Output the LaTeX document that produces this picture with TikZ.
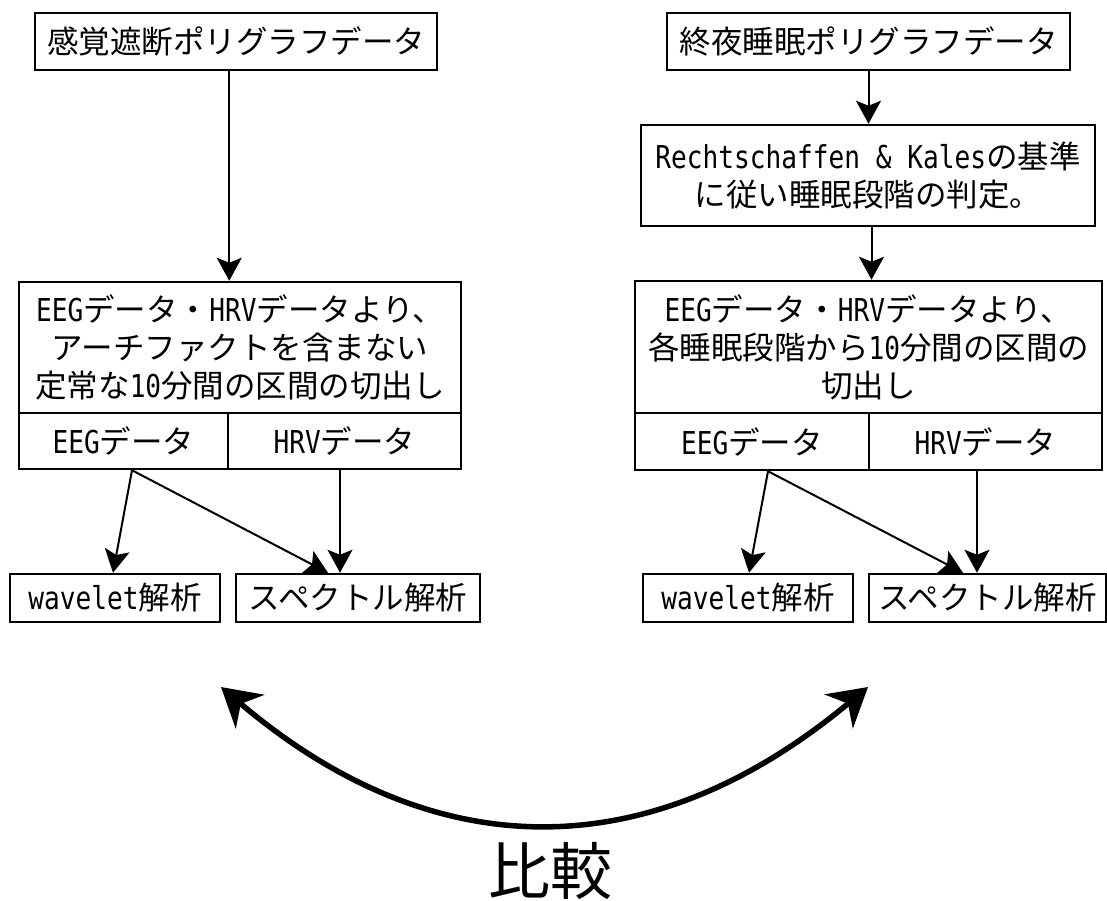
\documentclass[tikz,border=0pt]{standalone}
\usepackage{fontspec}
\setmainfont{Noto Sans CJK JP}
\newfontfamily\latf{DejaVu Sans Mono}[FakeStretch=0.83]
\newcommand\hw[1]{{\latf #1}}
\usetikzlibrary{arrows.meta}
\tikzset{
  bx/.style={draw, line width=2.5pt, inner sep=0pt, align=center, font=\fontsize{31.5}{38}\selectfont},
  arr/.style={line width=2pt, -{Stealth[length=23pt,width=25pt,inset=5pt]}},
  bigarr/.style={line width=5.5pt, {Stealth[length=38pt,width=44pt,inset=12pt]}-{Stealth[length=38pt,width=44pt,inset=12pt]}},
}
\begin{document}
\begin{tikzpicture}[x=1pt,y=-1pt]
\useasboundingbox (0,0) rectangle (1107,900);
% left column
\node[bx, minimum width=402pt, minimum height=57pt] (a1) at (236,41.5) {感覚遮断ポリグラフデータ};
\node[bx, minimum width=442pt, minimum height=131pt] (a2) at (240,347.5) {\hw{EEG}データ・\hw{HRV}データより、\\アーチファクトを含まない\\定常な\hw{10}分間の区間の切出し};
\node[bx, minimum width=209pt, minimum height=56pt] (a2e) at (123.5,441) {\hw{EEG}データ};
\node[bx, minimum width=233pt, minimum height=56pt] (a2h) at (344.5,441) {\hw{HRV}データ};
\node[bx, minimum width=210pt, minimum height=48pt] (wav1) at (115,598) {\hw{wavelet}解析};
\node[bx, minimum width=244pt, minimum height=48pt] (spe1) at (358,598) {スペクトル解析};
% right column
\node[bx, minimum width=403pt, minimum height=57pt] (b1) at (868.5,41.5) {終夜睡眠ポリグラフデータ};
\node[bx, minimum width=454pt, minimum height=101pt] (b2) at (868,175.5) {\hw{Rechtschaffen \& Kales}の基準\\に従い睡眠段階の判定。};
\node[bx, minimum width=467pt, minimum height=132pt] (b3) at (868.5,347) {\hw{EEG}データ・\hw{HRV}データより、\\各睡眠段階から\hw{10}分間の区間の\\切出し};
\node[bx, minimum width=234pt, minimum height=57pt] (b3e) at (752,441.5) {\hw{EEG}データ};
\node[bx, minimum width=233pt, minimum height=57pt] (b3h) at (985.5,441.5) {\hw{HRV}データ};
\node[bx, minimum width=210pt, minimum height=48pt] (wav2) at (748,598) {\hw{wavelet}解析};
\node[bx, minimum width=237pt, minimum height=48pt] (spe2) at (987.5,598) {スペクトル解析};
% left arrows
\draw[arr] (a1.south -| a2e.east) -- (a2.north -| a2e.east);
\coordinate (e1) at ([xshift=8.5pt]a2e.south);
\draw[arr] (e1) -- ([xshift=-2pt]wav1.north);
\draw[arr] (e1) -- ([xshift=-30pt]spe1.north);
\draw[arr] ([xshift=-4.5pt]a2h.south) -- ([xshift=-4.5pt]a2h.south |- spe1.north);
% right arrows
\draw[arr] (b1.south) -- (b1.south |- b2.north);
\draw[arr] ([xshift=3.5pt]b2.south) -- ([xshift=3.5pt]b2.south |- b3.north);
\coordinate (e2) at ([xshift=16pt]b3e.south);
\draw[arr] (e2) -- ([xshift=1pt]wav2.north);
\draw[arr] (e2) -- ([xshift=-24.5pt]spe2.north);
\draw[arr] ([xshift=-8.5pt]b3h.south) -- ([xshift=-8.5pt]b3h.south |- spe2.north);
% comparison
\coordinate (cl) at (221,687);
\coordinate (cr) at (868,687);
\draw[bigarr] (cl) .. controls (434.7,868.3) and (650.3,868.3) .. (cr);
\node[font=\fontsize{62}{62}\selectfont, inner sep=0pt] (cmp) at (550,871) {比較};
\end{tikzpicture}
\end{document}
